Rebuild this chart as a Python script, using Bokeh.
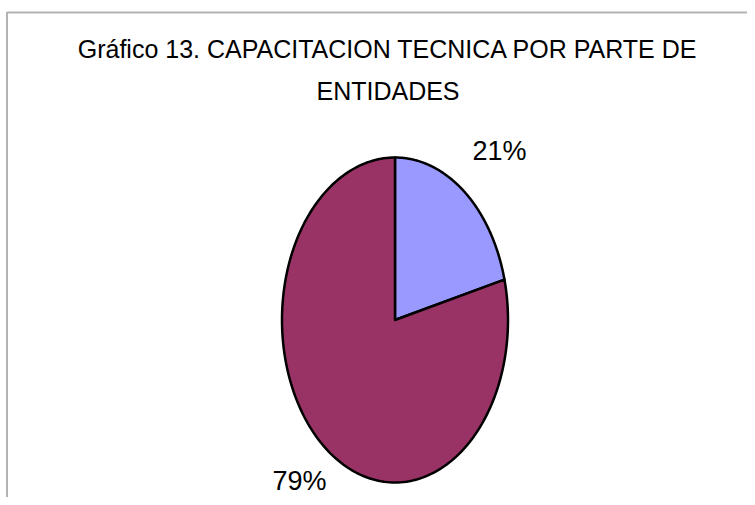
import numpy as np
from bokeh.plotting import figure
from bokeh.models import Range1d, BoxAnnotation, ColumnDataSource
from bokeh.core.properties import value
from bokeh.embed import file_html
from bokeh.resources import INLINE

# ---- data ----
title_lines = ["Gráfico 13. CAPACITACION TECNICA POR PARTE DE", "ENTIDADES"]
categories = ["Sí", "No"]
shares = [21, 79]
slice_labels = ["21%", "79%"]
slice_colors = ["#9999FF", "#993366"]

W, H = 747, 497
FONT = value("Liberation Sans")

p = figure(width=W, height=H, output_backend="svg", toolbar_location=None,
           x_range=Range1d(0, W), y_range=Range1d(H, 0),
           min_border=0, outline_line_color=None, background_fill_color="white",
           border_fill_color="white")
p.axis.visible = False
p.grid.visible = False

# pie ranges: unit ellipse centred at (394.5, 319.5), radii 113 x 162.5 px
cx, cy, rx, ry = 394.5, 319.5, 113.0, 162.5
p.extra_x_ranges = {"pie": Range1d((0 - cx) / rx, (W - cx) / rx)}
p.extra_y_ranges = {"pie": Range1d((cy - H) / ry, (cy - 0) / ry)}

# frame (top and left edges visible)
p.add_layout(BoxAnnotation(left=6.5, right=900, top=12, bottom=700, fill_alpha=0,
                           line_color="black", line_width=2))

# wedges from the shares
total = float(sum(shares))
cum = np.concatenate([[0], np.cumsum(shares)]) / total
xs, ys = [], []
for i in range(len(shares)):
    a0 = np.pi / 2 - 2 * np.pi * cum[i]
    a1 = np.pi / 2 - 2 * np.pi * cum[i + 1]
    t = np.linspace(a0, a1, 200)
    xs.append(list(np.concatenate([[0], np.cos(t), [0]])))
    ys.append(list(np.concatenate([[0], np.sin(t), [0]])))

src = ColumnDataSource(dict(xs=xs, ys=ys, color=slice_colors, cat=categories))
p.patches("xs", "ys", source=src, fill_color="color", line_color="black",
          line_width=2.5, line_join="round", x_range_name="pie", y_range_name="pie")

# title
p.text(x=[387.5, 387.5], y=[48, 90], text=title_lines, text_font=FONT,
       text_font_size="25px", text_align="center", text_baseline="alphabetic",
       text_color="black")

# slice labels
p.text(x=[472, 272], y=[150, 480], text=slice_labels, text_font=FONT,
       text_font_size="27px", text_align="left", text_baseline="alphabetic",
       text_color="black")

open("out.html", "w").write(file_html(p, INLINE))
